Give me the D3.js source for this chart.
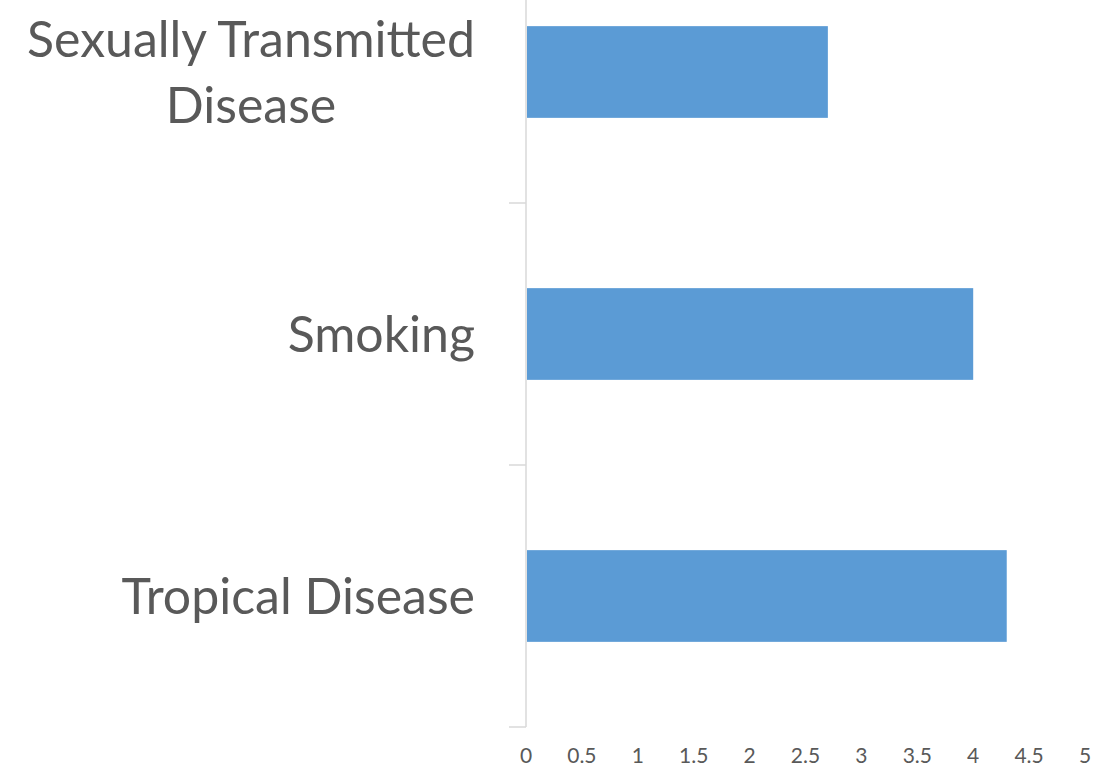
<!DOCTYPE html>
<html>
<head>
<meta charset="utf-8">
<script src="https://cdn.jsdelivr.net/npm/d3@7"></script>
<style>
  html, body { margin: 0; padding: 0; background: #ffffff; }
  svg { display: block; }
</style>
</head>
<body>
<svg id="chart" width="1117" height="769"></svg>
<script>
// Categories, top to bottom, and their bar values
const categories = ["Sexually Transmitted Disease", "Smoking", "Tropical Disease"];
const categoryLines = [["Sexually Transmitted", "Disease"], ["Smoking"], ["Tropical Disease"]];
const values = [2.7, 4.0, 4.3];
const xTicks = [0, 0.5, 1, 1.5, 2, 2.5, 3, 3.5, 4, 4.5, 5];

const svg = d3.select("#chart");
const font = "Lato, 'Open Sans', sans-serif";
const textColor = "#595959";
const axisColor = "#d9d9d9";
const barColor = "#5b9bd5";

const plot = { left: 526, right: 1085, top: -59, bottom: 727 };

const x = d3.scaleLinear().domain([0, 5]).range([plot.left, plot.right]);
const y = d3.scaleBand().domain(categories).range([plot.top, plot.bottom])
  .paddingInner(0.65).paddingOuter(0.325);

// Bars
svg.append("g").selectAll("rect")
  .data(categories)
  .join("rect")
  .attr("x", x(0) + 1)
  .attr("y", d => y(d))
  .attr("width", (d, i) => x(values[i]) - x(0) - 1)
  .attr("height", y.bandwidth())
  .attr("fill", barColor);

// Vertical category axis with tick marks at band boundaries
svg.append("line")
  .attr("x1", x(0)).attr("x2", x(0))
  .attr("y1", plot.top).attr("y2", plot.bottom)
  .attr("stroke", axisColor).attr("stroke-width", 1.5);

const bounds = categories.map(c => y(c) - y.step() * y.paddingInner() / 2 + y.step());
svg.append("g").selectAll("line")
  .data(bounds)
  .join("line")
  .attr("x1", x(0) - 17).attr("x2", x(0))
  .attr("y1", d => d).attr("y2", d => d)
  .attr("stroke", axisColor).attr("stroke-width", 1.5);

// Value tick labels along the bottom
svg.append("g").selectAll("text")
  .data(xTicks)
  .join("text")
  .attr("x", d => x(d))
  .attr("y", 763)
  .attr("text-anchor", "middle")
  .attr("font-family", font)
  .attr("font-size", 21)
  .attr("fill", textColor)
  .text(d => d);

// Category labels: right-aligned block, wrapped lines centered within it
const labelRight = 475;
const lineHeight = 66;
const labels = svg.append("g");
categories.forEach((c, i) => {
  const lines = categoryLines[i];
  const cy = y(c) + y.bandwidth() / 2;
  const g = labels.append("g");
  const texts = lines.map((ln, j) => g.append("text")
    .attr("font-family", font)
    .attr("font-size", 50)
    .attr("fill", textColor)
    .attr("y", cy + (j - (lines.length - 1) / 2) * lineHeight)
    .attr("dy", "0.35em")
    .text(ln));
  if (lines.length === 1) {
    texts[0].attr("x", labelRight).attr("text-anchor", "end");
  } else {
    const w = d3.max(texts, t => t.node().getComputedTextLength());
    texts.forEach(t => t.attr("x", labelRight - w / 2).attr("text-anchor", "middle"));
  }
});
</script>
</body>
</html>
